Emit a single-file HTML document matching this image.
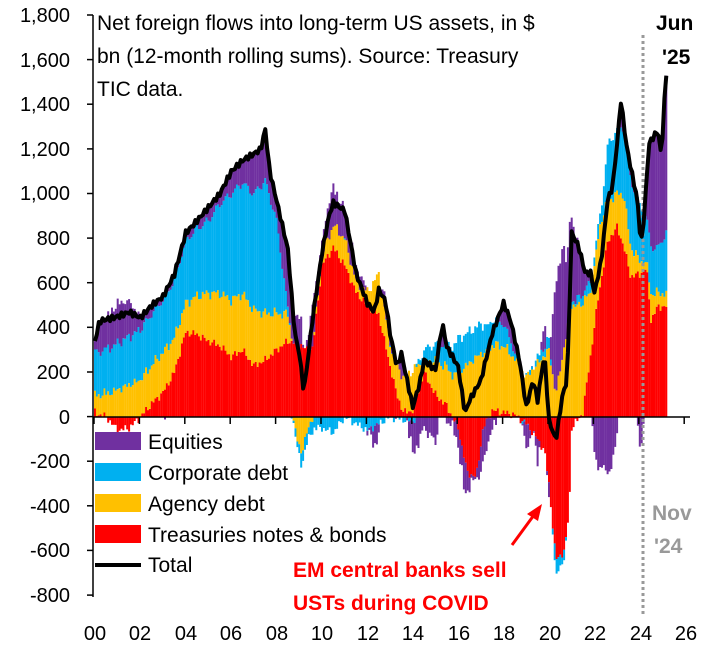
<!DOCTYPE html>
<html><head><meta charset="utf-8"><style>
body{margin:0;background:#fff;}
svg text{font-family:"Liberation Sans",sans-serif;}
</style></head><body>
<svg id="s" width="712" height="647" xmlns="http://www.w3.org/2000/svg">
<g id="bars"></g>
<g id="ax" font-size="20" fill="#000" text-anchor="end">
<text x="70" y="22">1,800</text><text x="70" y="67">1,600</text><text x="70" y="111">1,400</text>
<text x="70" y="156">1,200</text><text x="70" y="200">1,000</text><text x="70" y="245">800</text>
<text x="70" y="290">600</text><text x="70" y="334">400</text><text x="70" y="379">200</text>
<text x="70" y="424">0</text><text x="70" y="468">-200</text><text x="70" y="513">-400</text>
<text x="70" y="557">-600</text><text x="70" y="602">-800</text>
</g>
<g font-size="20" text-anchor="middle">
<text x="95" y="640">00</text><text x="140" y="640">02</text><text x="186" y="640">04</text>
<text x="231" y="640">06</text><text x="277" y="640">08</text><text x="322" y="640">10</text>
<text x="368" y="640">12</text><text x="413" y="640">14</text><text x="459" y="640">16</text>
<text x="504" y="640">18</text><text x="550" y="640">20</text><text x="595" y="640">22</text>
<text x="641" y="640">24</text><text x="686" y="640">26</text>
</g>
<g font-size="21">
<text x="97" y="30">Net foreign flows into long-term US assets, in $</text>
<text x="97" y="63">bn (12-month rolling sums). Source:  Treasury</text>
<text x="97" y="96">TIC data.</text>
</g>
<line x1="643" y1="35" x2="643" y2="615" stroke="#999" stroke-width="3" stroke-dasharray="3,3"/>
<text x="656" y="30" font-size="21" font-weight="bold">Jun</text>
<text x="662" y="64" font-size="21" font-weight="bold">'25</text>
<text x="652" y="520" font-size="21" font-weight="bold" fill="#999">Nov</text>
<text x="654" y="553" font-size="21" font-weight="bold" fill="#999">'24</text>
<path id="tot" fill="none" stroke="#000" stroke-width="4" stroke-linejoin="round"/>
<g font-size="21">
<rect x="95" y="432" width="46" height="18" fill="#7030a0"/><text x="148" y="449">Equities</text>
<rect x="95" y="463" width="46" height="18" fill="#00b0f0"/><text x="148" y="480">Corporate debt</text>
<rect x="95" y="494" width="46" height="18" fill="#ffc000"/><text x="148" y="511">Agency debt</text>
<rect x="95" y="525" width="46" height="18" fill="#ff0000"/><text x="148" y="542">Treasuries notes &amp; bonds</text>
<line x1="95" y1="565" x2="141" y2="565" stroke="#000" stroke-width="4"/><text x="148" y="572">Total</text>
</g>
<g font-size="21" font-weight="bold" fill="#ff0000">
<text x="293" y="577">EM central banks sell</text>
<text x="293" y="610">USTs during COVID</text>
</g>
<line x1="512" y1="545" x2="534" y2="515" stroke="#ff0000" stroke-width="3"/>
<polygon points="542,504 527,514 538,521" fill="#ff0000"/>
<g id="axes" stroke="#000" stroke-width="1.5"></g>
</svg>
<script>
var X0=94,PX=22.7,Z=417,K=0.2231;
function interp(pts,t){if(t<=pts[0][0])return pts[0][1];for(var i=1;i<pts.length;i++){if(t<=pts[i][0]){var a=pts[i-1],b=pts[i];return a[1]+(b[1]-a[1])*(t-a[0])/(b[0]-a[0]);}}return pts[pts.length-1][1];}
var TOT=[[2000,340],[2000.2,430],[2001,450],[2001.5,470],[2002,445],[2002.5,500],[2003,540],[2003.5,640],[2004,825],[2004.5,880],[2005,940],[2005.5,1000],[2006,1100],[2006.5,1150],[2007,1180],[2007.3,1200],[2007.5,1290],[2007.7,1100],[2008,970],[2008.5,750],[2008.8,375],[2009,285],[2009.2,110],[2009.6,450],[2010,735],[2010.3,900],[2010.5,960],[2011,925],[2011.5,645],[2012,510],[2012.3,470],[2012.5,570],[2012.8,520],[2013,375],[2013.3,225],[2013.5,285],[2014,45],[2014.3,150],[2014.5,255],[2015,210],[2015.3,420],[2015.5,315],[2016,225],[2016.3,15],[2016.5,75],[2017,165],[2017.5,375],[2018,510],[2018.3,435],[2018.7,255],[2019,45],[2019.3,165],[2019.5,75],[2019.8,285],[2020,-15],[2020.3,-105],[2020.6,100],[2020.8,165],[2021,825],[2021.3,765],[2021.6,645],[2021.85,645],[2022,555],[2022.3,700],[2022.58,970],[2022.8,1030],[2023,1225],[2023.17,1420],[2023.4,1225],[2023.6,1120],[2023.9,970],[2024.05,765],[2024.2,910],[2024.4,1225],[2024.8,1285],[2024.95,1165],[2025.15,1540]];
var TR=[[2000,20],[2000.5,0],[2001,-60],[2001.5,-50],[2002,0],[2002.5,60],[2003,110],[2003.5,200],[2004,380],[2004.5,370],[2005,340],[2005.5,320],[2006,270],[2006.5,300],[2007,230],[2007.5,255],[2008,300],[2008.5,340],[2009,330],[2009.3,300],[2009.6,310],[2010,680],[2010.5,760],[2011,680],[2011.5,560],[2012,500],[2012.5,460],[2013,230],[2013.3,100],[2013.6,20],[2014,30],[2014.5,200],[2015,100],[2015.5,50],[2016,-50],[2016.4,-250],[2016.8,-270],[2017.1,-50],[2017.5,30],[2018,20],[2018.5,10],[2019,-30],[2019.5,-100],[2019.8,-150],[2020,-300],[2020.3,-640],[2020.7,-600],[2020.9,-400],[2021,-50],[2021.5,20],[2021.85,285],[2022.2,555],[2022.6,790],[2023,850],[2023.3,765],[2023.6,630],[2024,640],[2024.3,670],[2024.5,435],[2024.8,495],[2025.5,495]];
var AG=[[2000,80],[2002,165],[2003,180],[2004,130],[2005,215],[2006,255],[2007,250],[2007.5,210],[2008,165],[2008.5,120],[2008.9,-100],[2009.1,-160],[2009.4,-50],[2009.6,0],[2010,50],[2010.5,100],[2011,120],[2011.5,50],[2012,60],[2012.5,180],[2013,100],[2013.5,150],[2014,180],[2014.5,50],[2015,150],[2016,200],[2017,285],[2018,300],[2018.5,250],[2019,180],[2020,300],[2020.3,100],[2021,500],[2021.5,500],[2021.85,270],[2022.3,270],[2022.6,180],[2023,150],[2023.3,235],[2023.6,135],[2024,60],[2024.3,20],[2024.5,120],[2024.8,60],[2025.3,60]];
var CO=[[2000,190],[2002,225],[2003,235],[2004,280],[2005,325],[2006,475],[2007,520],[2007.5,595],[2008,415],[2008.5,25],[2009,-50],[2010,-50],[2010.5,-70],[2011,0],[2012,-60],[2013,0],[2014,-20],[2014.5,50],[2015.5,105],[2016,150],[2017,130],[2018,100],[2018.7,0],[2019,0],[2020,50],[2020.3,-80],[2021,20],[2021.85,50],[2022.3,50],[2022.6,255],[2023.2,300],[2023.6,300],[2024,250],[2024.3,200],[2024.5,210],[2024.8,200],[2025.3,300]];
var cols=["#ff0000","#ffc000","#00b0f0","#7030a0"],h="",d="";
function nz(m,k){return Math.sin(m*2.3+k*1.9)*12+Math.sin(m*5.1+k)*8;}
for(var m=0;m<=302;m++){var t=2000+m/12;var tot=interp(TOT,t)+Math.sin(m*3.7)*12;
var v=[interp(TR,t)+nz(m,1),interp(AG,t)+nz(m,2),interp(CO,t)+nz(m,3)];v.push(tot-v[0]-v[1]-v[2]);
var up=0,dn=0,x=X0+m/12*PX;
for(var k=0;k<4;k++){var val=v[k];if(val>=0){h+='<rect x="'+x.toFixed(1)+'" y="'+(Z-(up+val)*K).toFixed(1)+'" width="2" height="'+(val*K).toFixed(1)+'" fill="'+cols[k]+'"/>';up+=val;}else{h+='<rect x="'+x.toFixed(1)+'" y="'+(Z-dn*K).toFixed(1)+'" width="2" height="'+(-val*K).toFixed(1)+'" fill="'+cols[k]+'"/>';dn+=val;}}
d+=(m?"L":"M")+(x+1).toFixed(1)+","+(Z-tot*K).toFixed(1);}
document.getElementById("bars").innerHTML=h;document.getElementById("tot").setAttribute("d",d);
var a='<line x1="93" y1="15" x2="93" y2="597"/><line x1="93" y1="417" x2="690" y2="417"/>';
for(var i=0;i<=13;i++){var yy=15+i*44.62;a+='<line x1="87" y1="'+yy.toFixed(1)+'" x2="93" y2="'+yy.toFixed(1)+'"/>';}
for(var j=0;j<=13;j++){var xx=X0+j*2*PX;a+='<line x1="'+xx.toFixed(1)+'" y1="417" x2="'+xx.toFixed(1)+'" y2="424"/>';}
document.getElementById("axes").innerHTML=a;
</script>
</body></html>
